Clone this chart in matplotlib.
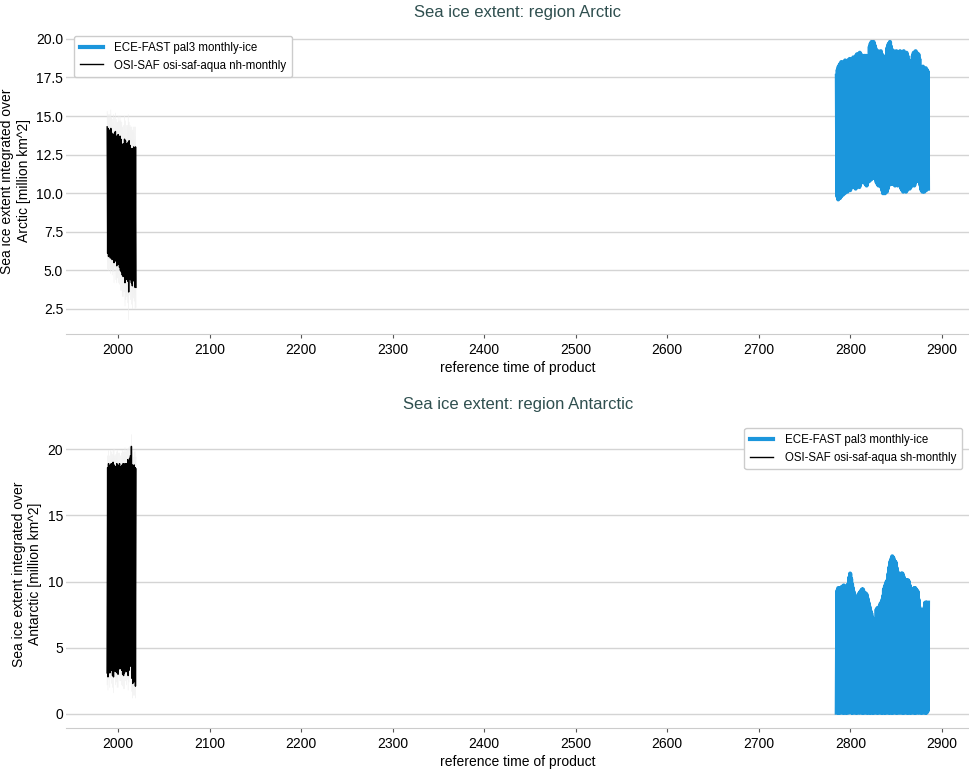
import matplotlib
matplotlib.use('Agg')
import matplotlib.pyplot as plt
import numpy as np

plt.rcParams['font.family'] = ['Liberation Sans', 'DejaVu Sans']

# years covered by each product (one max and one min per year)
obs_years = np.arange(1988, 2020)
mod_years = np.arange(2785, 2885)

# OSI-SAF Arctic (nh-monthly): yearly max / min [million km^2]
arc_obs_max = [14.3, 14.2, 14.0, 14.1, 14.2, 13.9, 13.7, 13.8, 13.9, 14.0, 13.7, 13.6, 13.8, 13.6, 13.7, 13.5,
               13.2, 13.0, 13.2, 13.5, 13.4, 13.2, 13.0, 13.3, 13.4, 13.1, 12.9, 12.8, 12.9, 13.0, 12.9, 13.0]
arc_obs_min = [6.1, 5.9, 6.2, 5.8, 6.3, 5.7, 6.0, 5.5, 6.2, 5.6, 5.3, 5.5, 5.4, 5.2, 5.0, 4.9,
               4.7, 4.6, 4.8, 4.2, 4.4, 4.5, 4.3, 3.6, 4.6, 4.4, 4.2, 4.0, 4.4, 4.3, 3.9, 3.9]
arc_obs_unc = [1.0, 0.9, 1.1, 1.0, 1.2, 1.0, 1.1, 1.3, 1.0, 1.2, 1.1, 1.0, 1.2, 1.1, 1.3, 1.2,
               1.4, 1.3, 1.2, 1.5, 1.3, 1.2, 1.4, 1.8, 1.2, 1.3, 1.4, 1.5, 1.2, 1.3, 1.4, 1.3]

# OSI-SAF Antarctic (sh-monthly)
ant_obs_max = [18.6, 18.9, 18.7, 18.8, 18.9, 18.6, 19.0, 18.8, 18.7, 18.6, 18.9, 18.8, 18.7, 18.9, 18.6, 18.7,
               18.8, 18.9, 18.8, 18.9, 18.9, 18.9, 19.2, 19.0, 19.3, 19.5, 20.2, 18.8, 18.3, 18.8, 18.6, 18.5]
ant_obs_min = [3.1, 2.8, 3.4, 3.1, 3.6, 3.3, 2.9, 2.8, 3.5, 3.2, 3.3, 3.1, 3.0, 3.7, 3.4, 3.5,
               3.3, 3.0, 2.9, 3.1, 3.4, 3.2, 3.4, 2.9, 3.3, 3.8, 3.6, 2.7, 2.3, 2.4, 2.6, 2.1]
ant_obs_unc = [0.9, 1.0, 0.8, 1.1, 0.9, 1.0, 0.9, 1.2, 0.8, 1.0, 0.9, 1.1, 1.0, 0.8, 0.9, 1.0,
               1.1, 0.9, 1.0, 1.2, 0.9, 1.0, 0.8, 1.1, 0.9, 0.8, 0.9, 1.0, 1.1, 1.0, 1.2, 0.9]

# ECE-FAST pal3 monthly-ice, Arctic
arc_mod_max = [17.6, 18.0, 18.2,
               18.3, 18.4, 18.5, 18.4, 18.3, 18.5, 18.6, 18.4, 18.5, 18.6, 18.5, 18.7, 18.6, 18.5, 18.7, 18.8, 18.6,
               18.8, 18.9, 19.0, 18.8, 18.9, 19.1, 19.0, 18.9, 18.7,
               18.8, 18.9, 18.7, 18.9, 18.8, 18.6, 18.9,
               19.5, 19.7, 19.8, 19.7, 19.8, 19.6, 19.4,
               19.2, 19.1, 19.2, 19.0, 19.1, 19.2, 19.0, 18.9,
               18.7, 18.8, 18.6, 18.9,
               19.4, 19.6, 19.7, 19.8, 19.5, 19.3,
               19.1, 19.2, 19.0, 19.1, 19.2, 19.0, 18.9, 19.1,
               19.2, 19.0, 19.1, 18.9, 19.2, 19.0, 18.8, 19.1, 18.9, 18.6,
               18.3, 18.2, 18.4, 18.6,
               18.9, 19.1, 19.0, 19.2, 19.1, 18.9, 19.0, 18.7,
               18.2, 18.0, 18.1, 18.2, 18.0, 17.9, 18.1, 18.0, 17.9]
arc_mod_min = [9.8, 9.6, 9.9, 9.7, 9.8, 10.0, 9.9, 10.1, 10.0,
               10.2, 10.3, 10.1, 10.4, 10.3, 10.2, 10.4,
               10.5, 10.4, 10.6, 10.5, 10.3, 10.5, 10.6,
               10.5, 10.4, 10.6, 10.9, 10.8, 10.9, 10.7,
               10.8, 10.6, 10.5, 10.7, 10.9, 10.8, 11.0, 10.9,
               11.0, 11.1, 11.0, 11.1, 10.9, 10.7,
               10.6, 10.5, 10.7, 10.6, 10.4,
               10.2, 10.0, 10.1, 10.0, 10.2, 10.1, 10.3, 10.5,
               10.7, 10.8, 10.6, 10.7, 10.6,
               10.6, 10.5, 10.7, 10.6, 10.5, 10.6, 10.7, 10.5, 10.3,
               10.2, 10.1, 10.3, 10.2, 10.1, 10.2, 10.3, 10.4, 10.3,
               10.4, 10.5, 10.7, 10.6, 10.5, 10.7, 10.8,
               10.9, 10.8, 10.9, 10.7, 10.5,
               10.2, 10.1, 10.2, 10.1, 10.3, 10.2, 10.4, 10.3]

# ECE-FAST pal3 monthly-ice, Antarctic
ant_mod_max = [9.3, 9.5, 9.4, 9.5, 9.4, 9.6, 9.5, 9.7, 9.5, 9.4,
               9.6, 9.7, 9.8, 10.3, 10.6, 10.2, 9.8, 9.5, 9.2, 8.8,
               8.4, 8.1, 8.6, 9.0, 9.1, 9.2, 9.3, 9.4, 9.4, 9.2,
               9.0, 9.1, 9.0, 8.7, 8.4, 8.1, 7.8, 7.6, 7.3, 7.0,
               6.8, 6.5, 6.3, 7.9, 8.0, 8.0, 8.1, 8.3, 8.4, 8.6,
               8.9, 9.4, 9.6, 9.8, 10.0, 10.1, 10.6, 11.1, 11.5, 11.7,
               11.9, 11.8, 11.6, 11.5, 11.4, 11.0, 10.7, 10.4, 10.3, 10.5,
               10.6, 10.6, 10.4, 10.2, 10.1, 10.1, 10.0, 10.1, 10.0, 9.7,
               9.4, 9.2, 9.3, 9.4, 9.5, 9.5, 9.4, 9.3, 9.2, 8.6,
               8.0, 7.8, 7.6, 7.5, 7.5, 8.0, 8.4, 8.4, 8.3, 8.4]
ant_mod_min = [0.1, 0.2, 0.1, 0.1, 0.2, 0.1, 0.2, 0.1, 0.1, 0.2,
               0.1, 0.1, 0.2, 0.1, 0.2, 0.2, 0.1, 0.1, 0.2, 0.1,
               0.2, 0.1, 0.1, 0.2, 0.1, 0.2, 0.1, 0.2, 0.1, 0.1,
               0.2, 0.1, 0.2, 0.1, 0.1, 0.2, 0.1, 0.1, 0.2, 0.1,
               0.1, 0.2, 0.1, 0.2, 0.1, 0.1, 0.2, 0.1, 0.2, 0.1,
               0.1, 0.2, 0.1, 0.1, 0.2, 0.1, 0.2, 0.1, 0.1, 0.2,
               0.1, 0.1, 0.2, 0.1, 0.2, 0.1, 0.1, 0.2, 0.1, 0.2,
               0.1, 0.2, 0.1, 0.1, 0.2, 0.1, 0.2, 0.1, 0.1, 0.2,
               0.1, 0.1, 0.2, 0.1, 0.2, 0.1, 0.1, 0.2, 0.1, 0.2,
               0.1, 0.2, 0.1, 0.1, 0.2, 0.1, 0.2, 0.1, 0.1, 0.2]

BLUE = '#1b96dc'
TITLE_COL = '#2f4f4f'
UNC_COL = '#ededed'


def seasonal(years, first, second, off1, off2):
    # two points per year -> zig-zag between seasonal extremes
    t = np.ravel(np.column_stack([years + off1, years + off2]))
    v = np.ravel(np.column_stack([first, second]))
    return t, v


def style(ax):
    for s in ['left', 'top', 'right']:
        ax.spines[s].set_visible(False)
    ax.spines['bottom'].set_color('#cccccc')
    ax.grid(axis='y', color='#d4d4d4', linewidth=1)
    ax.set_axisbelow(True)
    ax.tick_params(axis='y', length=0, labelsize=10, pad=2)
    ax.tick_params(axis='x', length=3, color='#555555', labelsize=10)
    ax.set_xticks(np.arange(2000, 3000, 100))
    ax.set_xlim(1943.2, 2930.6)
    ax.set_xlabel('reference time of product', fontsize=10, labelpad=3)


def legend(ax, loc):
    ax.legend(loc=loc, fontsize=8.3, framealpha=1, edgecolor='#cccccc',
              handletextpad=1.0, borderpad=0.5, borderaxespad=0.7)


fig = plt.figure(figsize=(9.7, 7.69), dpi=100)
ax1 = fig.add_axes([0.068, 0.5657, 0.932, 0.398])
ax2 = fig.add_axes([0.068, 0.0533, 0.932, 0.4005])

# Arctic: max in March, min in September
arc_obs_max_a = np.array(arc_obs_max)
arc_obs_min_a = np.array(arc_obs_min)
arc_obs_unc_a = np.array(arc_obs_unc)
t, v = seasonal(mod_years, arc_mod_max, arc_mod_min, 0.2, 0.7)
ax1.plot(t, v, color=BLUE, linewidth=3, label='ECE-FAST pal3 monthly-ice')
t, v = seasonal(obs_years, arc_obs_max_a + arc_obs_unc_a, arc_obs_min_a + arc_obs_unc_a, 0.2, 0.7)
ax1.plot(t, v, color=UNC_COL, linewidth=0.4)
t, v = seasonal(obs_years, arc_obs_max_a - arc_obs_unc_a, arc_obs_min_a - arc_obs_unc_a, 0.2, 0.7)
ax1.plot(t, v, color=UNC_COL, linewidth=0.4)
t, v = seasonal(obs_years, arc_obs_max, arc_obs_min, 0.2, 0.7)
ax1.plot(t, v, color='black', linewidth=1, label='OSI-SAF osi-saf-aqua nh-monthly')
ax1.set_ylim(0.88, 20.71)
ax1.set_yticks(np.arange(2.5, 20.1, 2.5))
ax1.set_ylabel('Sea ice extent integrated over\nArctic [million km^2]', fontsize=10)
ax1.set_title('Sea ice extent: region Arctic', fontsize=12, color=TITLE_COL, pad=8)
legend(ax1, 'upper left')
style(ax1)

# Antarctic: min in February, max in September
ant_obs_max_a = np.array(ant_obs_max)
ant_obs_min_a = np.array(ant_obs_min)
ant_obs_unc_a = np.array(ant_obs_unc)
t, v = seasonal(mod_years, ant_mod_min, ant_mod_max, 0.1, 0.7)
ax2.plot(t, v, color=BLUE, linewidth=3, label='ECE-FAST pal3 monthly-ice')
t, v = seasonal(obs_years, ant_obs_min_a + ant_obs_unc_a, ant_obs_max_a + ant_obs_unc_a, 0.1, 0.7)
ax2.plot(t, v, color=UNC_COL, linewidth=0.4)
t, v = seasonal(obs_years, ant_obs_min_a - ant_obs_unc_a, ant_obs_max_a - ant_obs_unc_a, 0.1, 0.7)
ax2.plot(t, v, color=UNC_COL, linewidth=0.4)
t, v = seasonal(obs_years, ant_obs_min, ant_obs_max, 0.1, 0.7)
ax2.plot(t, v, color='black', linewidth=1, label='OSI-SAF osi-saf-aqua sh-monthly')
ax2.set_ylim(-1.06, 22.19)
ax2.set_yticks([0, 5, 10, 15, 20])
ax2.set_ylabel('Sea ice extent integrated over\nAntarctic [million km^2]', fontsize=10)
ax2.set_title('Sea ice extent: region Antarctic', fontsize=12, color=TITLE_COL, pad=8)
legend(ax2, 'upper right')
style(ax2)

fig.savefig('out.png', dpi=100)
